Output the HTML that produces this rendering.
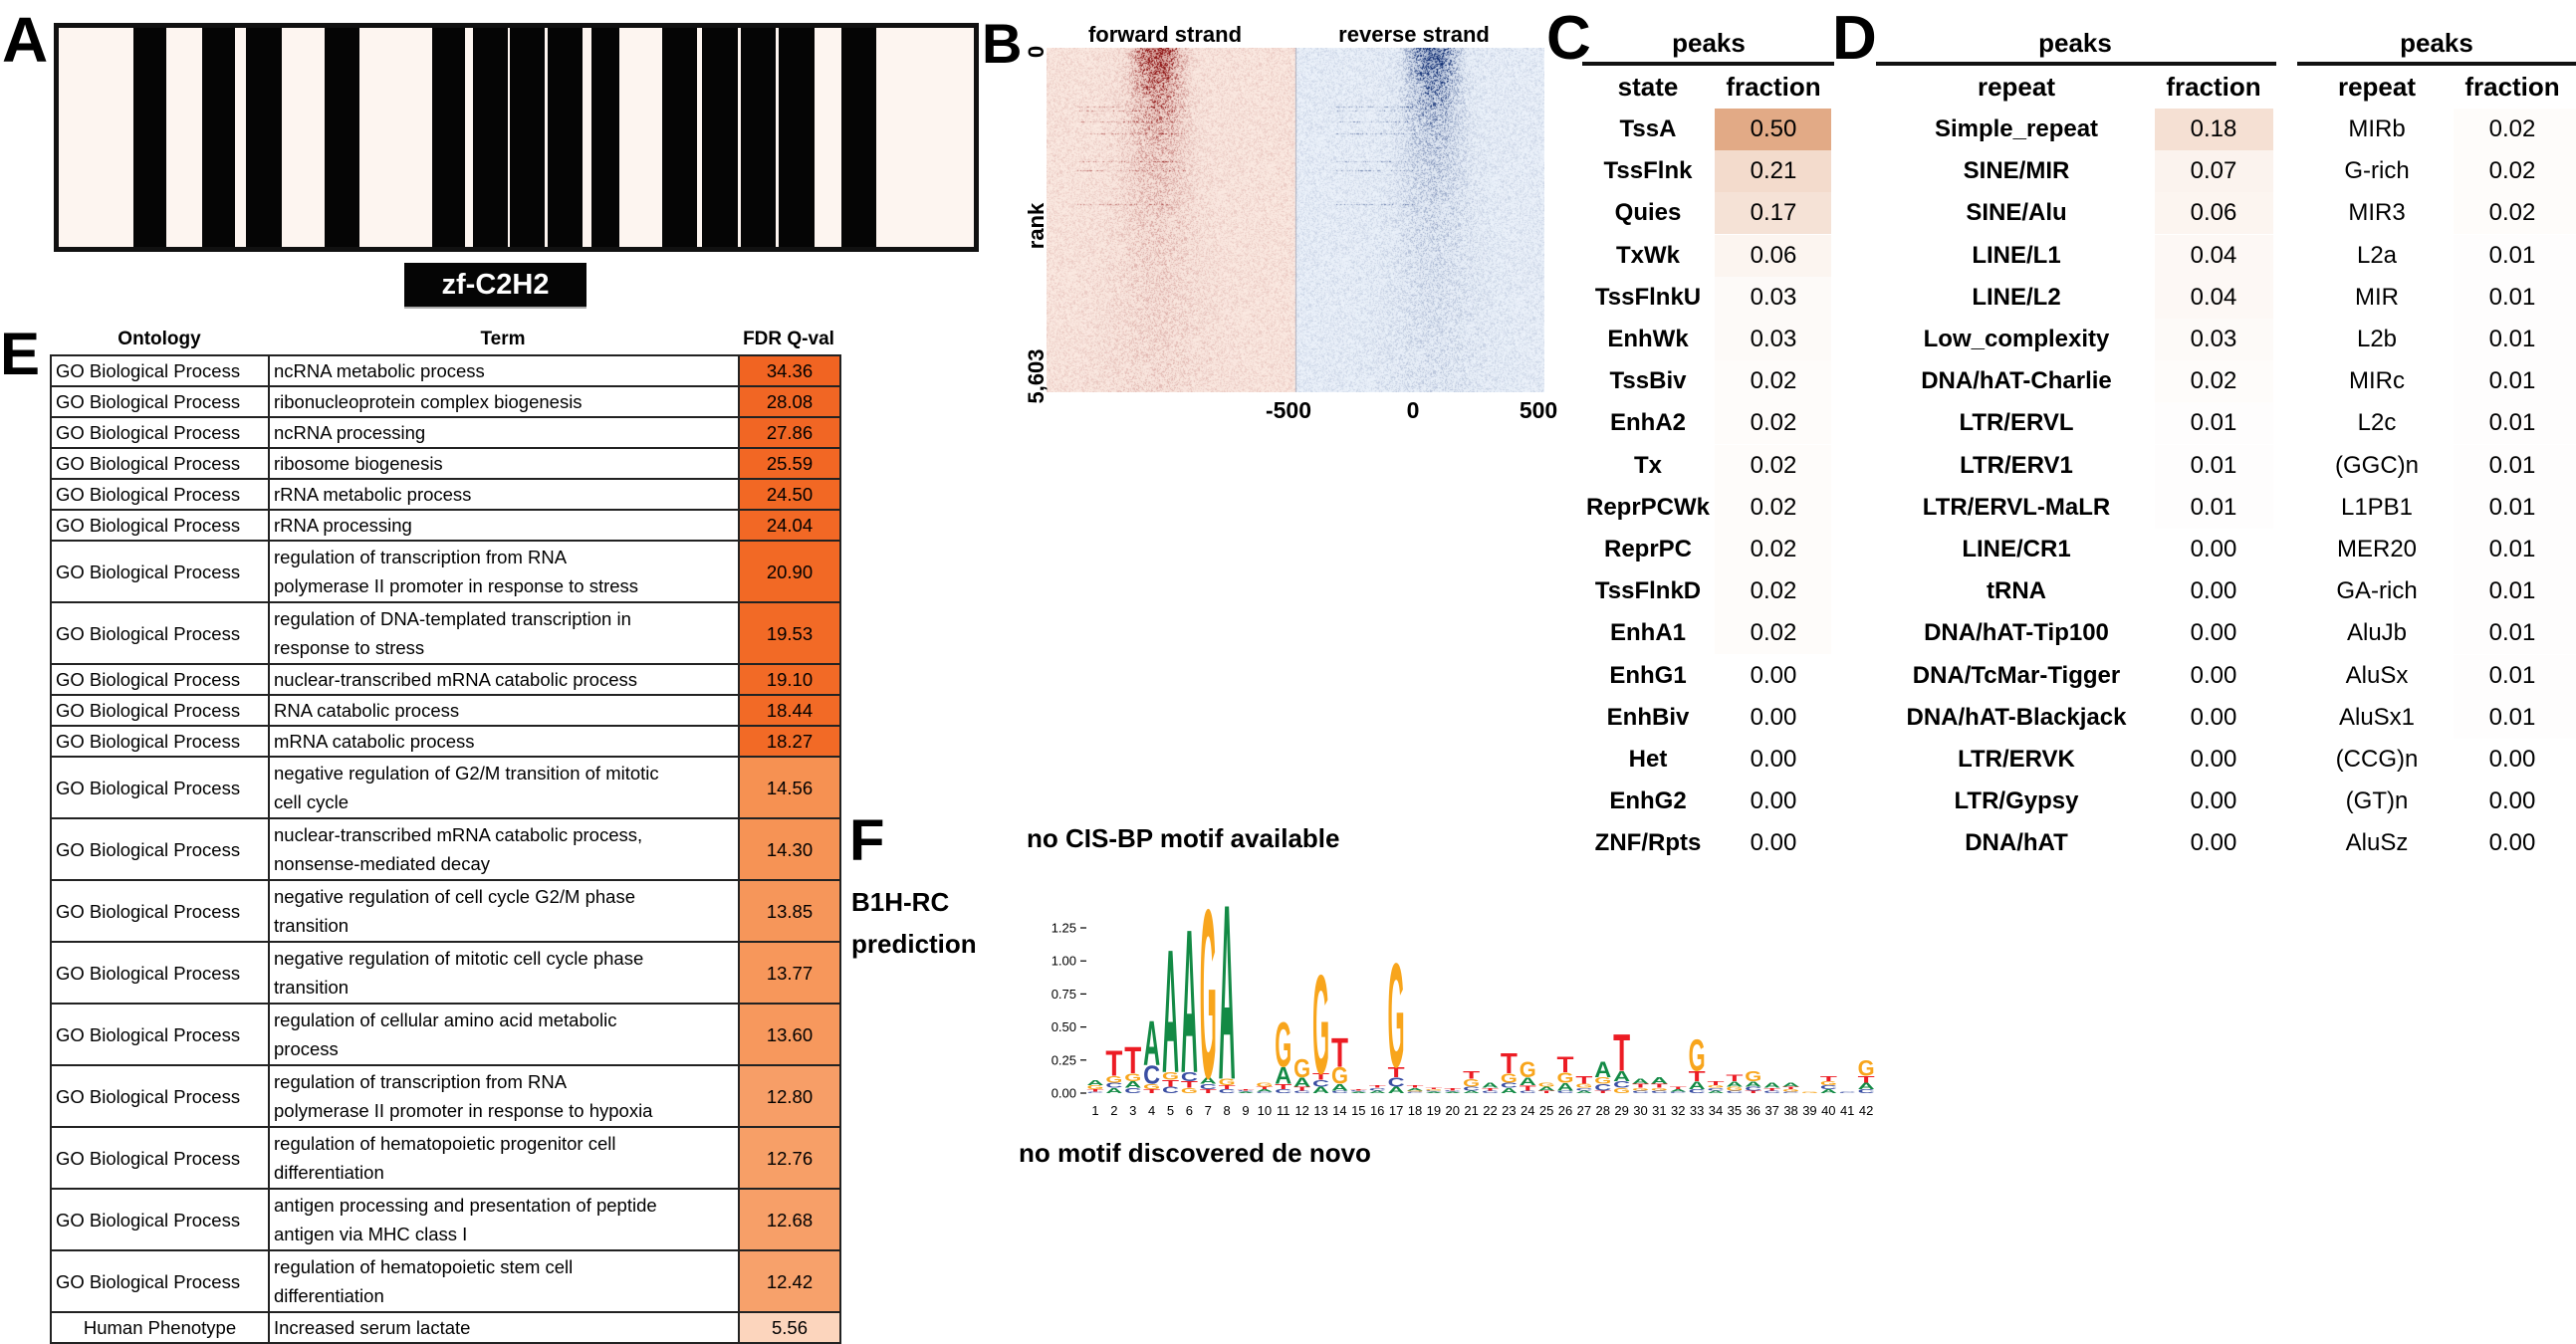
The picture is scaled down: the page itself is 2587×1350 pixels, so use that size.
<!DOCTYPE html>
<html><head><meta charset="utf-8">
<style>
*{margin:0;padding:0;box-sizing:border-box}
body{width:2587px;height:1350px;background:#fff;overflow:hidden;position:relative;font-family:"Liberation Sans Narrow","Liberation Sans",sans-serif;color:#000}
.t{position:absolute;white-space:nowrap;line-height:1}
.b{font-weight:bold}
.lbl{position:absolute;font-weight:bold;line-height:1;font-family:"Liberation Sans",sans-serif}
.rot{position:absolute;transform:translate(-50%,-50%) rotate(-90deg);font-weight:bold;font-size:22px;line-height:1;white-space:nowrap}
.ec{position:absolute;border:2px solid #222;font-size:18.5px;line-height:29px;white-space:nowrap;display:flex;align-items:center;padding:0 4px;overflow:hidden}
</style></head>
<body>
<!-- Panel A -->
<div class="lbl" style="left:2px;top:8px;font-size:64px">A</div>
<div id="abox" style="position:absolute;left:54px;top:23px;width:929px;height:230px;border:5px solid #111;background:#fdf5f0;overflow:hidden"></div>
<div style="position:absolute;left:406px;top:264px;width:183px;height:46px;background:#050505;border-bottom:2px solid #aaa;color:#fff;font-weight:bold;font-size:29px;text-align:center;line-height:44px">zf-C2H2</div>

<!-- Panel B -->
<div class="lbl" style="left:986px;top:16px;font-size:56px">B</div>
<div class="t b" style="left:1170px;top:24px;font-size:22px;transform:translateX(-50%)">forward strand</div>
<div class="t b" style="left:1420px;top:24px;font-size:22px;transform:translateX(-50%)">reverse strand</div>
<canvas id="hm" width="500" height="346" style="position:absolute;left:1051px;top:48px"></canvas>
<div class="rot" style="left:1041px;top:52px">0</div>
<div class="rot" style="left:1041px;top:227px">rank</div>
<div class="rot" style="left:1041px;top:378px">5,603</div>
<div class="t b" style="left:1294px;top:401px;font-size:23px;transform:translateX(-50%)">-500</div>
<div class="t b" style="left:1419px;top:401px;font-size:23px;transform:translateX(-50%)">0</div>
<div class="t b" style="left:1545px;top:401px;font-size:23px;transform:translateX(-50%)">500</div>

<!-- Panel C / D -->
<div class="lbl" style="left:1553px;top:8px;font-size:62px">C</div>
<div class="lbl" style="left:1840px;top:8px;font-size:62px">D</div>
<div id="cd"></div>

<!-- Panel E -->
<div class="lbl" style="left:0px;top:326px;font-size:60px">E</div>
<div class="t b" style="left:160px;top:331px;font-size:19px;transform:translateX(-50%)">Ontology</div>
<div class="t b" style="left:505px;top:331px;font-size:19px;transform:translateX(-50%)">Term</div>
<div class="t b" style="left:792px;top:331px;font-size:19px;transform:translateX(-50%)">FDR Q-val</div>
<div id="etab"></div>

<!-- Panel F -->
<div class="lbl" style="left:853px;top:816px;font-size:58px">F</div>
<div class="t b" style="left:855px;top:893px;font-size:26px">B1H-RC</div>
<div class="t b" style="left:855px;top:935px;font-size:26px">prediction</div>
<div class="t b" style="left:1031px;top:829px;font-size:26px">no CIS-BP motif available</div>
<div class="t b" style="left:1023px;top:1145px;font-size:26px">no motif discovered de novo</div>
<svg id="logo" width="2587" height="1350" style="position:absolute;left:0;top:0;pointer-events:none"></svg>

<script>
// ---------- Panel A data ----------
const barStarts = [134,203,247,326,434,475,512,550,594,665,705,744,782,845];
const barEnds   = [167,236,283,361,467,510,547,585,622,700,741,779,818,880];
const abox = document.getElementById('abox');
for (let i=0;i<barStarts.length;i++){
  const d=document.createElement('div');
  
  
  d.style.cssText=`position:absolute;top:0;bottom:0;left:${barStarts[i]-59}px;width:${barEnds[i]-barStarts[i]}px;background:#050505`;
  abox.appendChild(d);
}

// ---------- Panel B heatmap (texture) ----------
(function(){
  const c=document.getElementById('hm'),ctx=c.getContext('2d');
  const W=500,H=346,img=ctx.createImageData(W,H);
  let s=12345;function r(){s=(s*1103515245+12345)&0x7fffffff;return s/0x7fffffff;}
  const rowBoost=[];for(let y=0;y<H;y++){rowBoost.push(y<160&&r()<0.03?1:0);}
  for(let y=0;y<H;y++)for(let x=0;x<W;x++){
    const red=x<250, cx=red?111:388;
    const sig=13+y*0.07, amp=0.95*Math.exp(-y/40)+0.16*Math.exp(-y/250);
    const dx=(x-cx)/sig;
    let p=0.08+amp*Math.exp(-dx*dx/2);
    if(rowBoost[y]&&((red&&x>30&&x<140)||(!red&&x>290&&x<370)))p+=0.2;
    let v=r()<0.55? p*r()*2.3 : p*0.35;
    if(v>1)v=1;
    const bg=red?[253,238,230]:[240,246,253], fg=red?[140,15,15]:[15,45,115];
    const i=(y*W+x)*4;
    for(let k=0;k<3;k++)img.data[i+k]=bg[k]+(fg[k]-bg[k])*v;
    img.data[i+3]=255;
  }
  ctx.putImageData(img,0,0);
  ctx.fillStyle='#aab0c0';ctx.fillRect(250,0,1,H);
})();

// ---------- Panel C/D data ----------
const cStates=['TssA','TssFlnk','Quies','TxWk','TssFlnkU','EnhWk','TssBiv','EnhA2','Tx','ReprPCWk','ReprPC','TssFlnkD','EnhA1','EnhG1','EnhBiv','Het','EnhG2','ZNF/Rpts'];
const cFrac=[0.50,0.21,0.17,0.06,0.03,0.03,0.02,0.02,0.02,0.02,0.02,0.02,0.02,0.00,0.00,0.00,0.00,0.00];
const dRepeats=['Simple_repeat','SINE/MIR','SINE/Alu','LINE/L1','LINE/L2','Low_complexity','DNA/hAT-Charlie','LTR/ERVL','LTR/ERV1','LTR/ERVL-MaLR','LINE/CR1','tRNA','DNA/hAT-Tip100','DNA/TcMar-Tigger','DNA/hAT-Blackjack','LTR/ERVK','LTR/Gypsy','DNA/hAT'];
const dFrac=[0.18,0.07,0.06,0.04,0.04,0.03,0.02,0.01,0.01,0.01,0.00,0.00,0.00,0.00,0.00,0.00,0.00,0.00];
const eRepeats=['MIRb','G-rich','MIR3','L2a','MIR','L2b','MIRc','L2c','(GGC)n','L1PB1','MER20','GA-rich','AluJb','AluSx','AluSx1','(CCG)n','(GT)n','AluSz'];
const eFrac=[0.02,0.02,0.02,0.01,0.01,0.01,0.01,0.01,0.01,0.01,0.01,0.01,0.01,0.01,0.01,0.00,0.00,0.00];

const cd=document.getElementById('cd');
function txt(parent,name,s,cx,cy,fs,bold){
  const d=document.createElement('div');
  
  
  d.className='t'+(bold?' b':'');
  d.textContent=s;
  d.style.cssText=`left:${cx}px;top:${cy-0.5*fs}px;font-size:${fs}px;transform:translateX(-50%)`;
  parent.appendChild(d);return d;
}
function fracColor(v){const f=Math.min(v/0.5,1.2);
  return `rgb(${Math.round(255-f*29)},${Math.round(255-f*85)},${Math.round(255-f*121)})`;}
const rowY0=130,rowDy=42.2;
const tables=[
  {names:cStates,vals:cFrac,nameX:1655,fracX:1781,cellL:1722,cellR:1839,boldNames:true,peaksX:1716,ulL:1589,ulR:1842,hdr:'state',id:'c'},
  {names:dRepeats,vals:dFrac,nameX:2025,fracX:2223,cellL:2164,cellR:2283,boldNames:true,peaksX:2084,ulL:1884,ulR:2286,hdr:'repeat',id:'d'},
  {names:eRepeats,vals:eFrac,nameX:2387,fracX:2523,cellL:2464,cellR:2587,boldNames:false,peaksX:2447,ulL:2307,ulR:2587,hdr:'repeat',id:'d2'}
];
tables.forEach(t=>{
  txt(cd,'peaks-header-'+t.id,'peaks',t.peaksX,43,26,true);
  const ul=document.createElement('div');
  
  
  ul.style.cssText=`position:absolute;left:${t.ulL}px;width:${t.ulR-t.ulL}px;top:62px;height:4px;background:#111`;
  cd.appendChild(ul);
  txt(cd,t.hdr+'-column-header-'+t.id,t.hdr,t.nameX,87,26,true);
  txt(cd,'fraction-column-header-'+t.id,'fraction',t.fracX,87,26,true);
  t.names.forEach((n,i)=>{
    const cy=rowY0+i*rowDy;
    const cell=document.createElement('div');
    
    
    cell.style.cssText=`position:absolute;left:${t.cellL}px;width:${t.cellR-t.cellL}px;top:${cy-rowDy/2}px;height:${rowDy}px;background:${fracColor(t.vals[i])}`;
    cd.appendChild(cell);
    txt(cd,'row-label',n,t.nameX,cy,24,t.boldNames);
    txt(cd,'fraction-value',t.vals[i].toFixed(2),t.fracX,cy,24,false);
  });
});

// ---------- Panel E data ----------
const eOnt=['GO Biological Process','GO Biological Process','GO Biological Process','GO Biological Process','GO Biological Process','GO Biological Process','GO Biological Process','GO Biological Process','GO Biological Process','GO Biological Process','GO Biological Process','GO Biological Process','GO Biological Process','GO Biological Process','GO Biological Process','GO Biological Process','GO Biological Process','GO Biological Process','GO Biological Process','GO Biological Process','Human Phenotype'];
const eTerms=['ncRNA metabolic process','ribonucleoprotein complex biogenesis','ncRNA processing','ribosome biogenesis','rRNA metabolic process','rRNA processing',
 'regulation of transcription from RNA|polymerase II promoter in response to stress','regulation of DNA-templated transcription in|response to stress',
 'nuclear-transcribed mRNA catabolic process','RNA catabolic process','mRNA catabolic process',
 'negative regulation of G2/M transition of mitotic|cell cycle','nuclear-transcribed mRNA catabolic process,|nonsense-mediated decay',
 'negative regulation of cell cycle G2/M phase|transition','negative regulation of mitotic cell cycle phase|transition',
 'regulation of cellular amino acid metabolic|process','regulation of transcription from RNA|polymerase II promoter in response to hypoxia',
 'regulation of hematopoietic progenitor cell|differentiation','antigen processing and presentation of peptide|antigen via MHC class I',
 'regulation of hematopoietic stem cell|differentiation','Increased serum lactate'];
const eQ=[34.36,28.08,27.86,25.59,24.50,24.04,20.90,19.53,19.10,18.44,18.27,14.56,14.30,13.85,13.77,13.60,12.80,12.76,12.68,12.42,5.56];
function qColor(v){
  const a=[[5.56,[252,213,189]],[14.56,[246,145,82]],[18.27,[242,106,38]],[34.36,[241,100,34]]];
  for(let k=0;k<a.length-1;k++){if(v<=a[k+1][0]){const f=(v-a[k][0])/(a[k+1][0]-a[k][0]);
    return 'rgb('+a[k][1].map((c,j)=>Math.round(c+(a[k+1][1][j]-c)*f)).join(',')+')';}}
  return 'rgb(241,100,34)';
}
const etab=document.getElementById('etab');
let ey=356;
const colL=[50,269,741], colR=[271,743,845];
for(let i=0;i<eOnt.length;i++){
  const lines=eTerms[i].split('|');
  const h=lines.length>1?62:31;
  const contents=[eOnt[i],lines.join('<br>'),eQ[i].toFixed(2)];
  const names=['ontology-cell','term-cell','fdr-cell'];
  for(let c=0;c<3;c++){
    const d=document.createElement('div');
    
    
    d.className='ec';
    d.innerHTML=contents[c];
    d.style.left=colL[c]+'px';d.style.width=(colR[c]-colL[c])+'px';
    d.style.top=ey+'px';d.style.height=(h+2)+'px';
    if(c===2){d.style.justifyContent='center';d.style.background=qColor(eQ[i]);}
    if(c===0&&eOnt[i]==='Human Phenotype')d.style.justifyContent='center';
    etab.appendChild(d);
  }
  ey+=h;
}

// ---------- Panel F motif logo data ----------
const logoPositions=[1,2,3,4,5,6,7,8,9,10,11,12,13,14,15,16,17,18,19,20,21,22,23,24,25,26,27,28,29,30,31,32,33,34,35,36,37,38,39,40,41,42];
const hA=[.04,.04,.05,.35,.97,1.13,.05,1.38,.01,.02,.13,.07,.05,.05,.01,.02,.05,.02,.01,.01,.02,.04,.04,.06,.03,.06,.02,.12,.08,.04,.05,.02,.06,.02,.04,.04,.04,.03,0,.03,0,.05];
const hC=[.01,.04,.04,.14,.05,.07,.04,.03,.01,.01,.03,.02,.05,.02,.01,.02,.07,.01,.01,.01,.03,.02,.04,.02,0,.02,.02,.05,.05,.02,.02,.01,.03,.02,.02,.03,.02,.01,0,.03,.01,.03];
const hG=[.03,.05,.06,.04,.06,.04,1.33,.05,0,.03,.35,.14,.78,.13,0,0,.82,.01,.01,0,.06,0,.07,.12,.03,.08,.03,.05,.04,.02,.02,0,.25,.02,.03,.08,0,.02,.01,.03,0,.12];
const hT=[.02,.20,.21,.03,.05,.05,.03,.03,.01,.02,.04,.03,.05,.23,.01,.02,.08,.02,.01,.02,.06,.02,.16,.04,.02,.12,.06,.02,.29,.03,.03,.02,.08,.03,.05,.02,.02,.02,0,.04,0,.05];
const yTicks=[0,0.25,0.5,0.75,1.0,1.25];
const xPx=p=>1100+(p-1)*18.88;
const yPx=v=>1098-v*132.8;
const NS='http://www.w3.org/2000/svg';
const svg=document.getElementById('logo');
const colors={A:'#138a45',C:'#3a4ea3',G:'#f8a51c',T:'#ec1c24'};
yTicks.forEach(v=>{
  const tk=document.createElementNS(NS,'line');
  
  
  tk.setAttribute('x1',1085);tk.setAttribute('x2',1091);tk.setAttribute('y1',yPx(v));tk.setAttribute('y2',yPx(v));
  tk.setAttribute('stroke','#000');tk.setAttribute('stroke-width','1.2');svg.appendChild(tk);
  const tl=document.createElementNS(NS,'text');
  
  
  tl.setAttribute('x',1081);tl.setAttribute('y',yPx(v)+4.5);tl.setAttribute('text-anchor','end');
  tl.setAttribute('font-size','13');tl.setAttribute('font-family','Liberation Sans Narrow, Liberation Sans, sans-serif');
  tl.textContent=v.toFixed(2);svg.appendChild(tl);
});
logoPositions.forEach((p,i)=>{
  const xl=document.createElementNS(NS,'text');
  
  
  xl.setAttribute('x',xPx(p));xl.setAttribute('y',1120);xl.setAttribute('text-anchor','middle');
  xl.setAttribute('font-size','13');xl.setAttribute('font-family','Liberation Sans Narrow, Liberation Sans, sans-serif');
  xl.textContent=p;svg.appendChild(xl);
  const st=[['A',hA[i]],['C',hC[i]],['G',hG[i]],['T',hT[i]]].filter(e=>e[1]>0).sort((a,b)=>a[1]-b[1]);
  let base=0;
  st.forEach(([L,h])=>{
    const y0=yPx(base),hp=h*132.8;
    const t=document.createElementNS(NS,'text');
    
    
    t.setAttribute('x',0);t.setAttribute('y',0);
    t.setAttribute('font-size','100');t.setAttribute('font-weight','bold');
    t.setAttribute('font-family','Liberation Sans, sans-serif');
    t.setAttribute('textLength','100');t.setAttribute('lengthAdjust','spacingAndGlyphs');
    t.setAttribute('fill',colors[L]);
    t.setAttribute('transform',`translate(${xPx(p)-8.5},${y0}) scale(0.17,${hp/72.9})`);
    t.textContent=L;svg.appendChild(t);
    base+=h;
  });
});
</script>
</body></html>
